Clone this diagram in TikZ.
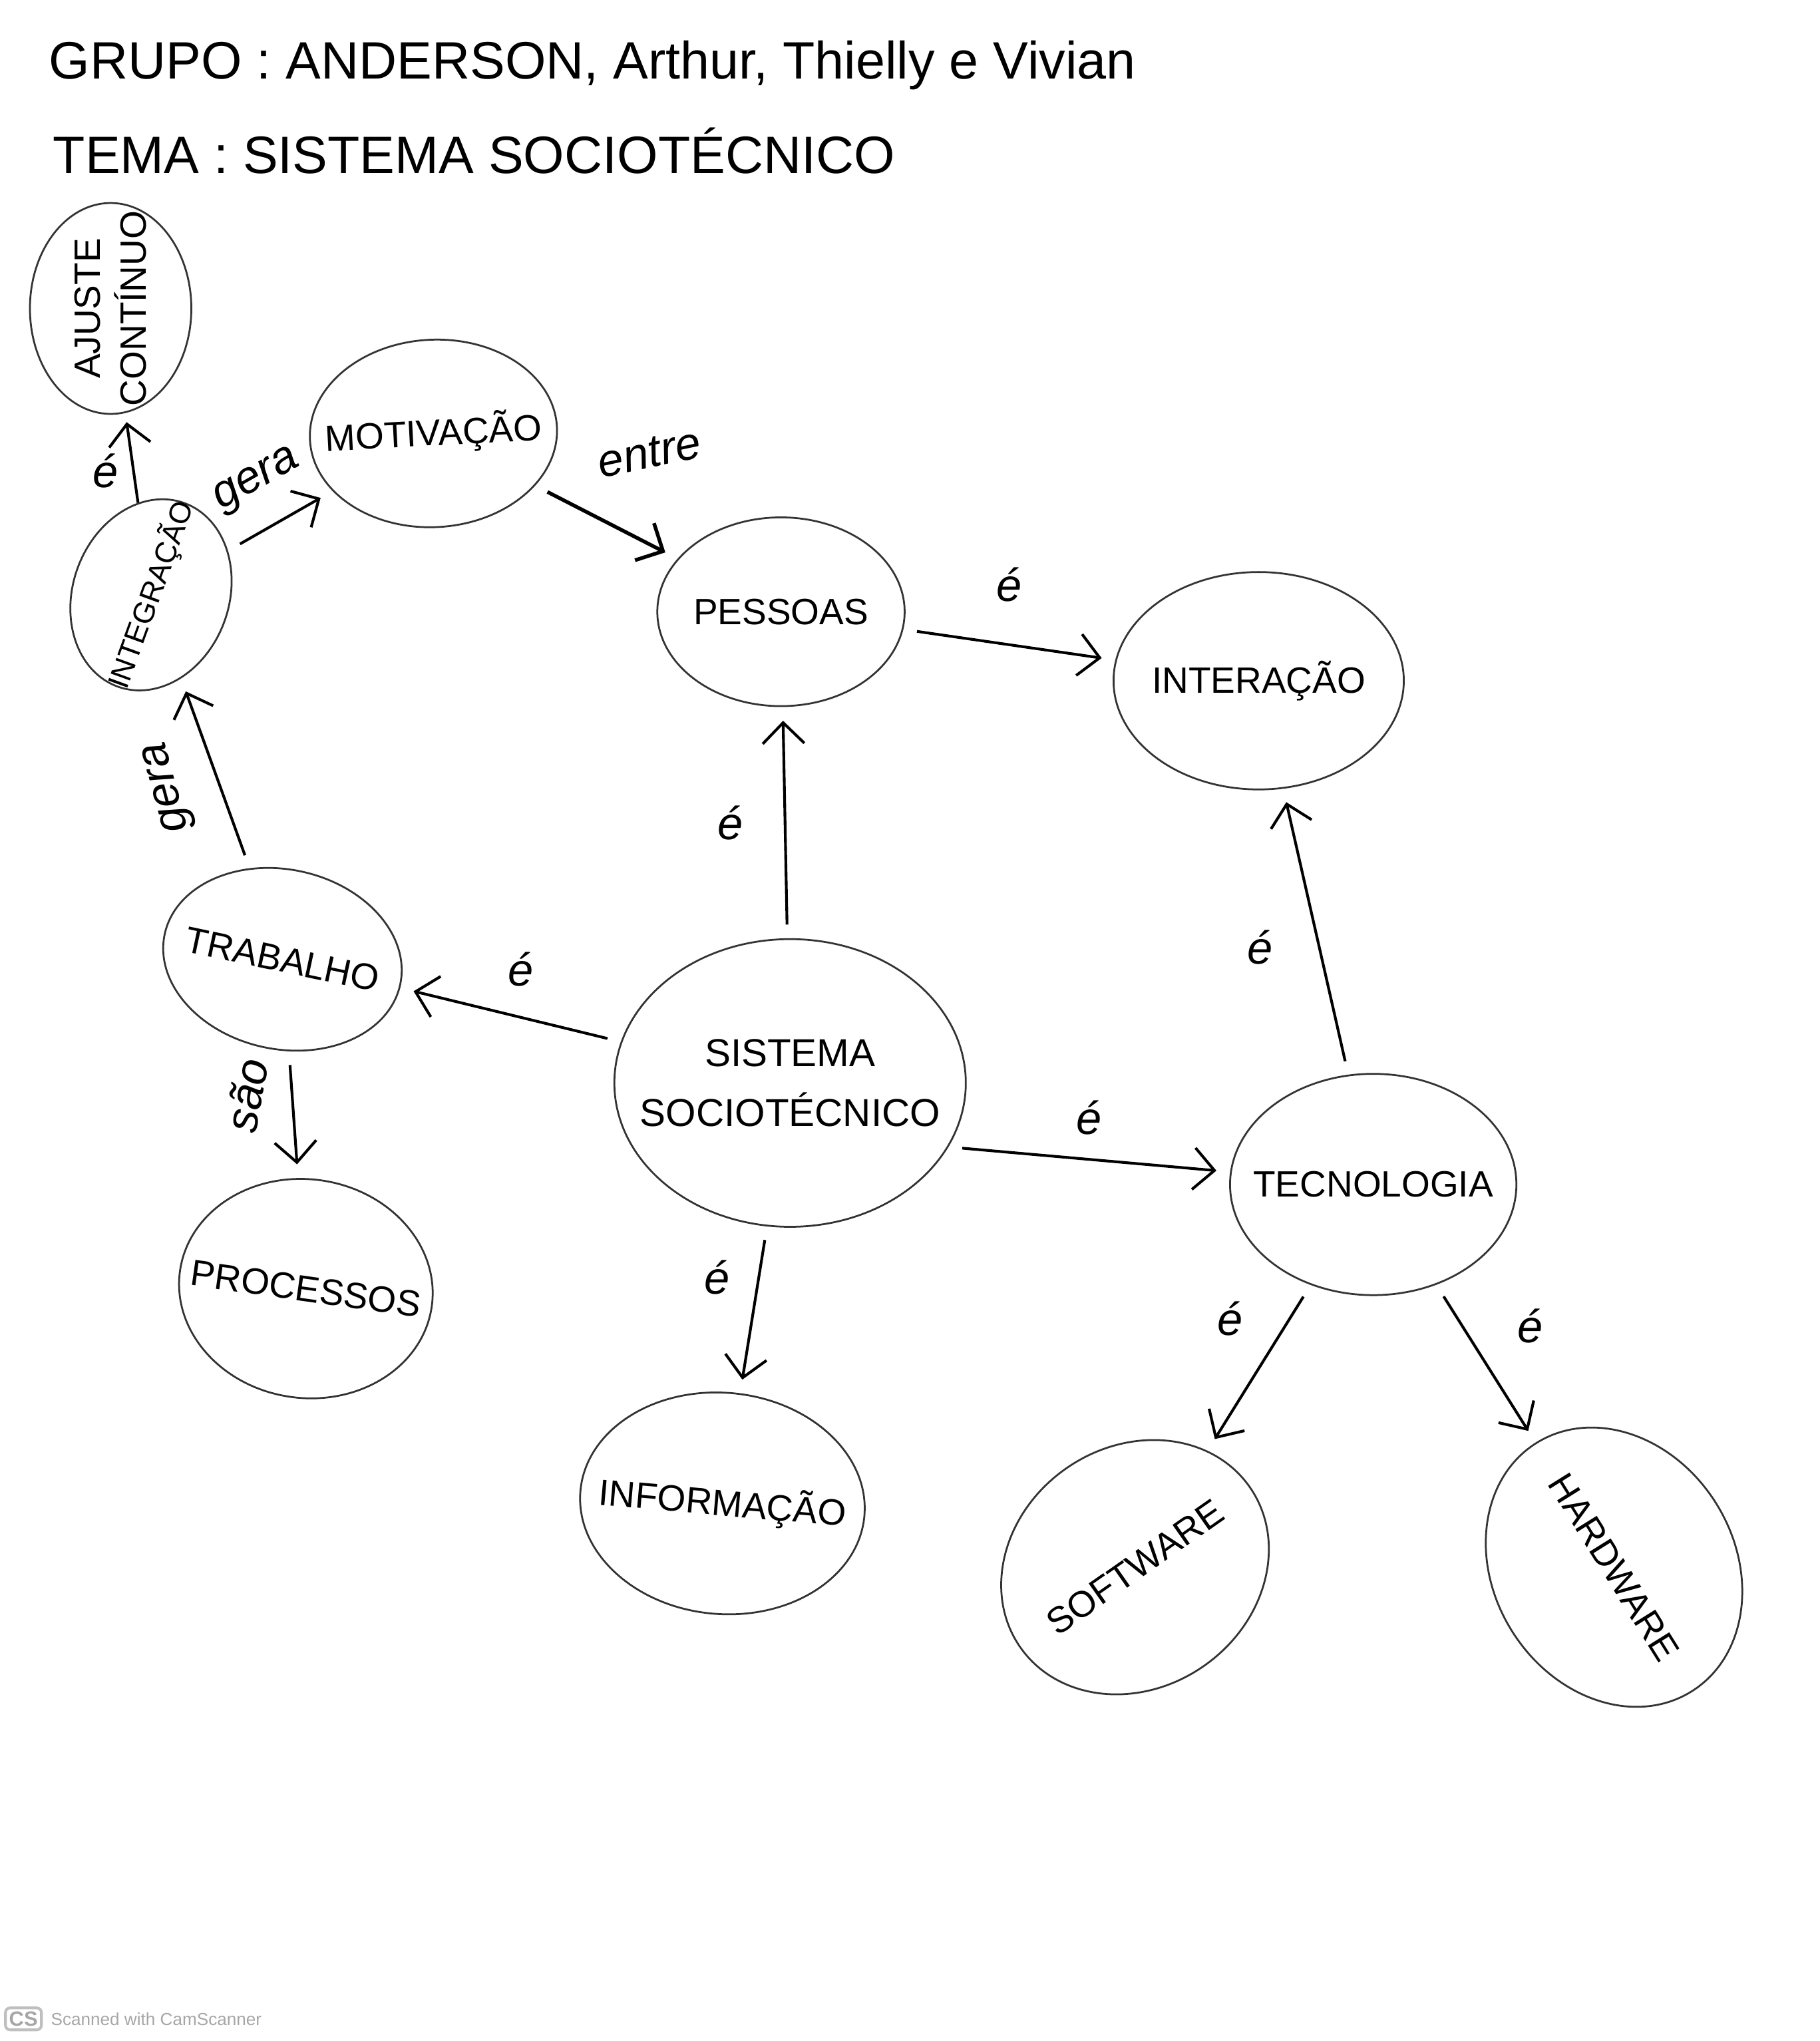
\documentclass[tikz,border=0pt]{standalone}
\usepackage{fontspec}
\setmainfont{Liberation Sans}
\usepackage{xcolor}
\usepackage{tikz}
\usetikzlibrary{shapes,arrows.meta,positioning,calc}

\begin{document}
\begin{tikzpicture}[->, >={Straight Barb[length=1.6mm,width=3.2mm]}, shorten >=3pt, shorten <=3pt, semithick]
\tikzstyle{concept}=[ellipse, draw=black!80, thin, text=black, inner xsep=-2mm, inner ysep=0pt, align=center, font=\fontsize{8}{10}\selectfont]
\tikzstyle{rel}=[font=\itshape\fontsize{10}{12}\selectfont, text=black, inner sep=1pt]
\tikzstyle{title}=[anchor=west, font=\fontsize{11.5}{14}\selectfont]

\useasboundingbox (0,0) rectangle (13.98,15.68);

% cabecalho
\node[title] (grupo) at (0.25,15.18) {GRUPO : ANDERSON, Arthur, Thielly e Vivian};
\node[title] (tema) at (0.28,14.52) {TEMA : SISTEMA SOCIOTÉCNICO};

% conceitos
\node[concept, rotate=90, minimum width=1.62cm, minimum height=1.24cm] (ajuste) at (0.85,13.31) {AJUSTE\\CONTÍNUO};
\node[concept, rotate=3, minimum width=1.9cm, minimum height=1.44cm] (motiv) at (3.33,12.35) {MOTIVAÇÃO};
\node[concept, rotate=70, minimum width=1.5cm, minimum height=1.2cm, inner xsep=-4mm, font=\fontsize{6.5}{8}\selectfont] (integ) at (1.16,11.11) {INTEGRAÇÃO};
\node[concept, minimum width=1.9cm, minimum height=1.45cm] (pessoas) at (6.00,10.98) {PESSOAS};
\node[concept, minimum width=2.23cm, minimum height=1.67cm] (interacao) at (9.67,10.45) {INTERAÇÃO};
\node[concept, rotate=-12, minimum width=1.85cm, minimum height=1.38cm] (trabalho) at (2.17,8.31) {TRABALHO};
\node[concept, minimum width=2.7cm, minimum height=2.21cm, inner xsep=-3mm, font=\fontsize{8.5}{13}\selectfont] (sistema) at (6.07,7.36) {SISTEMA\\SOCIOTÉCNICO};
\node[concept, rotate=-8, minimum width=1.95cm, minimum height=1.68cm] (processos) at (2.35,5.78) {PROCESSOS};
\node[concept, minimum width=2.2cm, minimum height=1.7cm] (tecno) at (10.55,6.58) {TECNOLOGIA};
\node[concept, rotate=-5, minimum width=2.19cm, minimum height=1.7cm] (info) at (5.55,4.13) {INFORMAÇÃO};
\node[concept, rotate=35, minimum width=2.15cm, minimum height=1.85cm] (software) at (8.72,3.64) {SOFTWARE};
\node[concept, rotate=-58, minimum width=2.25cm, minimum height=1.85cm] (hardware) at (12.40,3.64) {HARDWARE};

% ligacoes
\path (integ) edge[shorten <=0pt, shorten >=2pt] node[rel, xshift=-0.2cm, yshift=-0.1cm] {é} (ajuste)
      (integ) edge node[rel, above=5pt, sloped] {gera} (motiv)
      (motiv) edge[thick] node[rel, xshift=0.33cm, yshift=0.53cm, rotate=12] {entre} (pessoas)
      (pessoas) edge node[rel, yshift=0.46cm] {é} (interacao)
      (trabalho) edge node[rel, xshift=-0.36cm, yshift=-0.1cm, rotate=105] {gera} (integ)
      (trabalho) edge node[rel, xshift=-0.36cm, yshift=0.15cm, rotate=80] {são} (processos)
      (sistema) edge node[rel, xshift=0.08cm, yshift=0.35cm] {é} (trabalho)
      (sistema) edge node[rel, xshift=-0.42cm] {é} (pessoas)
      (sistema.-22) edge node[rel, yshift=0.32cm] {é} (tecno)
      (sistema) edge node[rel, xshift=-0.28cm, yshift=0.25cm] {é} (info)
      (tecno) edge node[rel, xshift=-0.43cm, yshift=-0.12cm] {é} (interacao)
      (tecno) edge node[rel, xshift=-0.22cm, yshift=0.38cm] {é} (software)
      (tecno) edge node[rel, xshift=0.34cm, yshift=0.29cm] {é} (hardware);

% rodape
\node[draw=black!25, text=black!35, rounded corners=1pt, inner sep=0.8pt, font=\bfseries\fontsize{4.5}{5}\selectfont] (cslogo) at (0.18,0.17) {CS};
\node[right=1.5pt of cslogo, text=black!35, inner sep=0pt, font=\fontsize{3.8}{4.5}\selectfont] (csnote) {Scanned with CamScanner};
\end{tikzpicture}
\end{document}
